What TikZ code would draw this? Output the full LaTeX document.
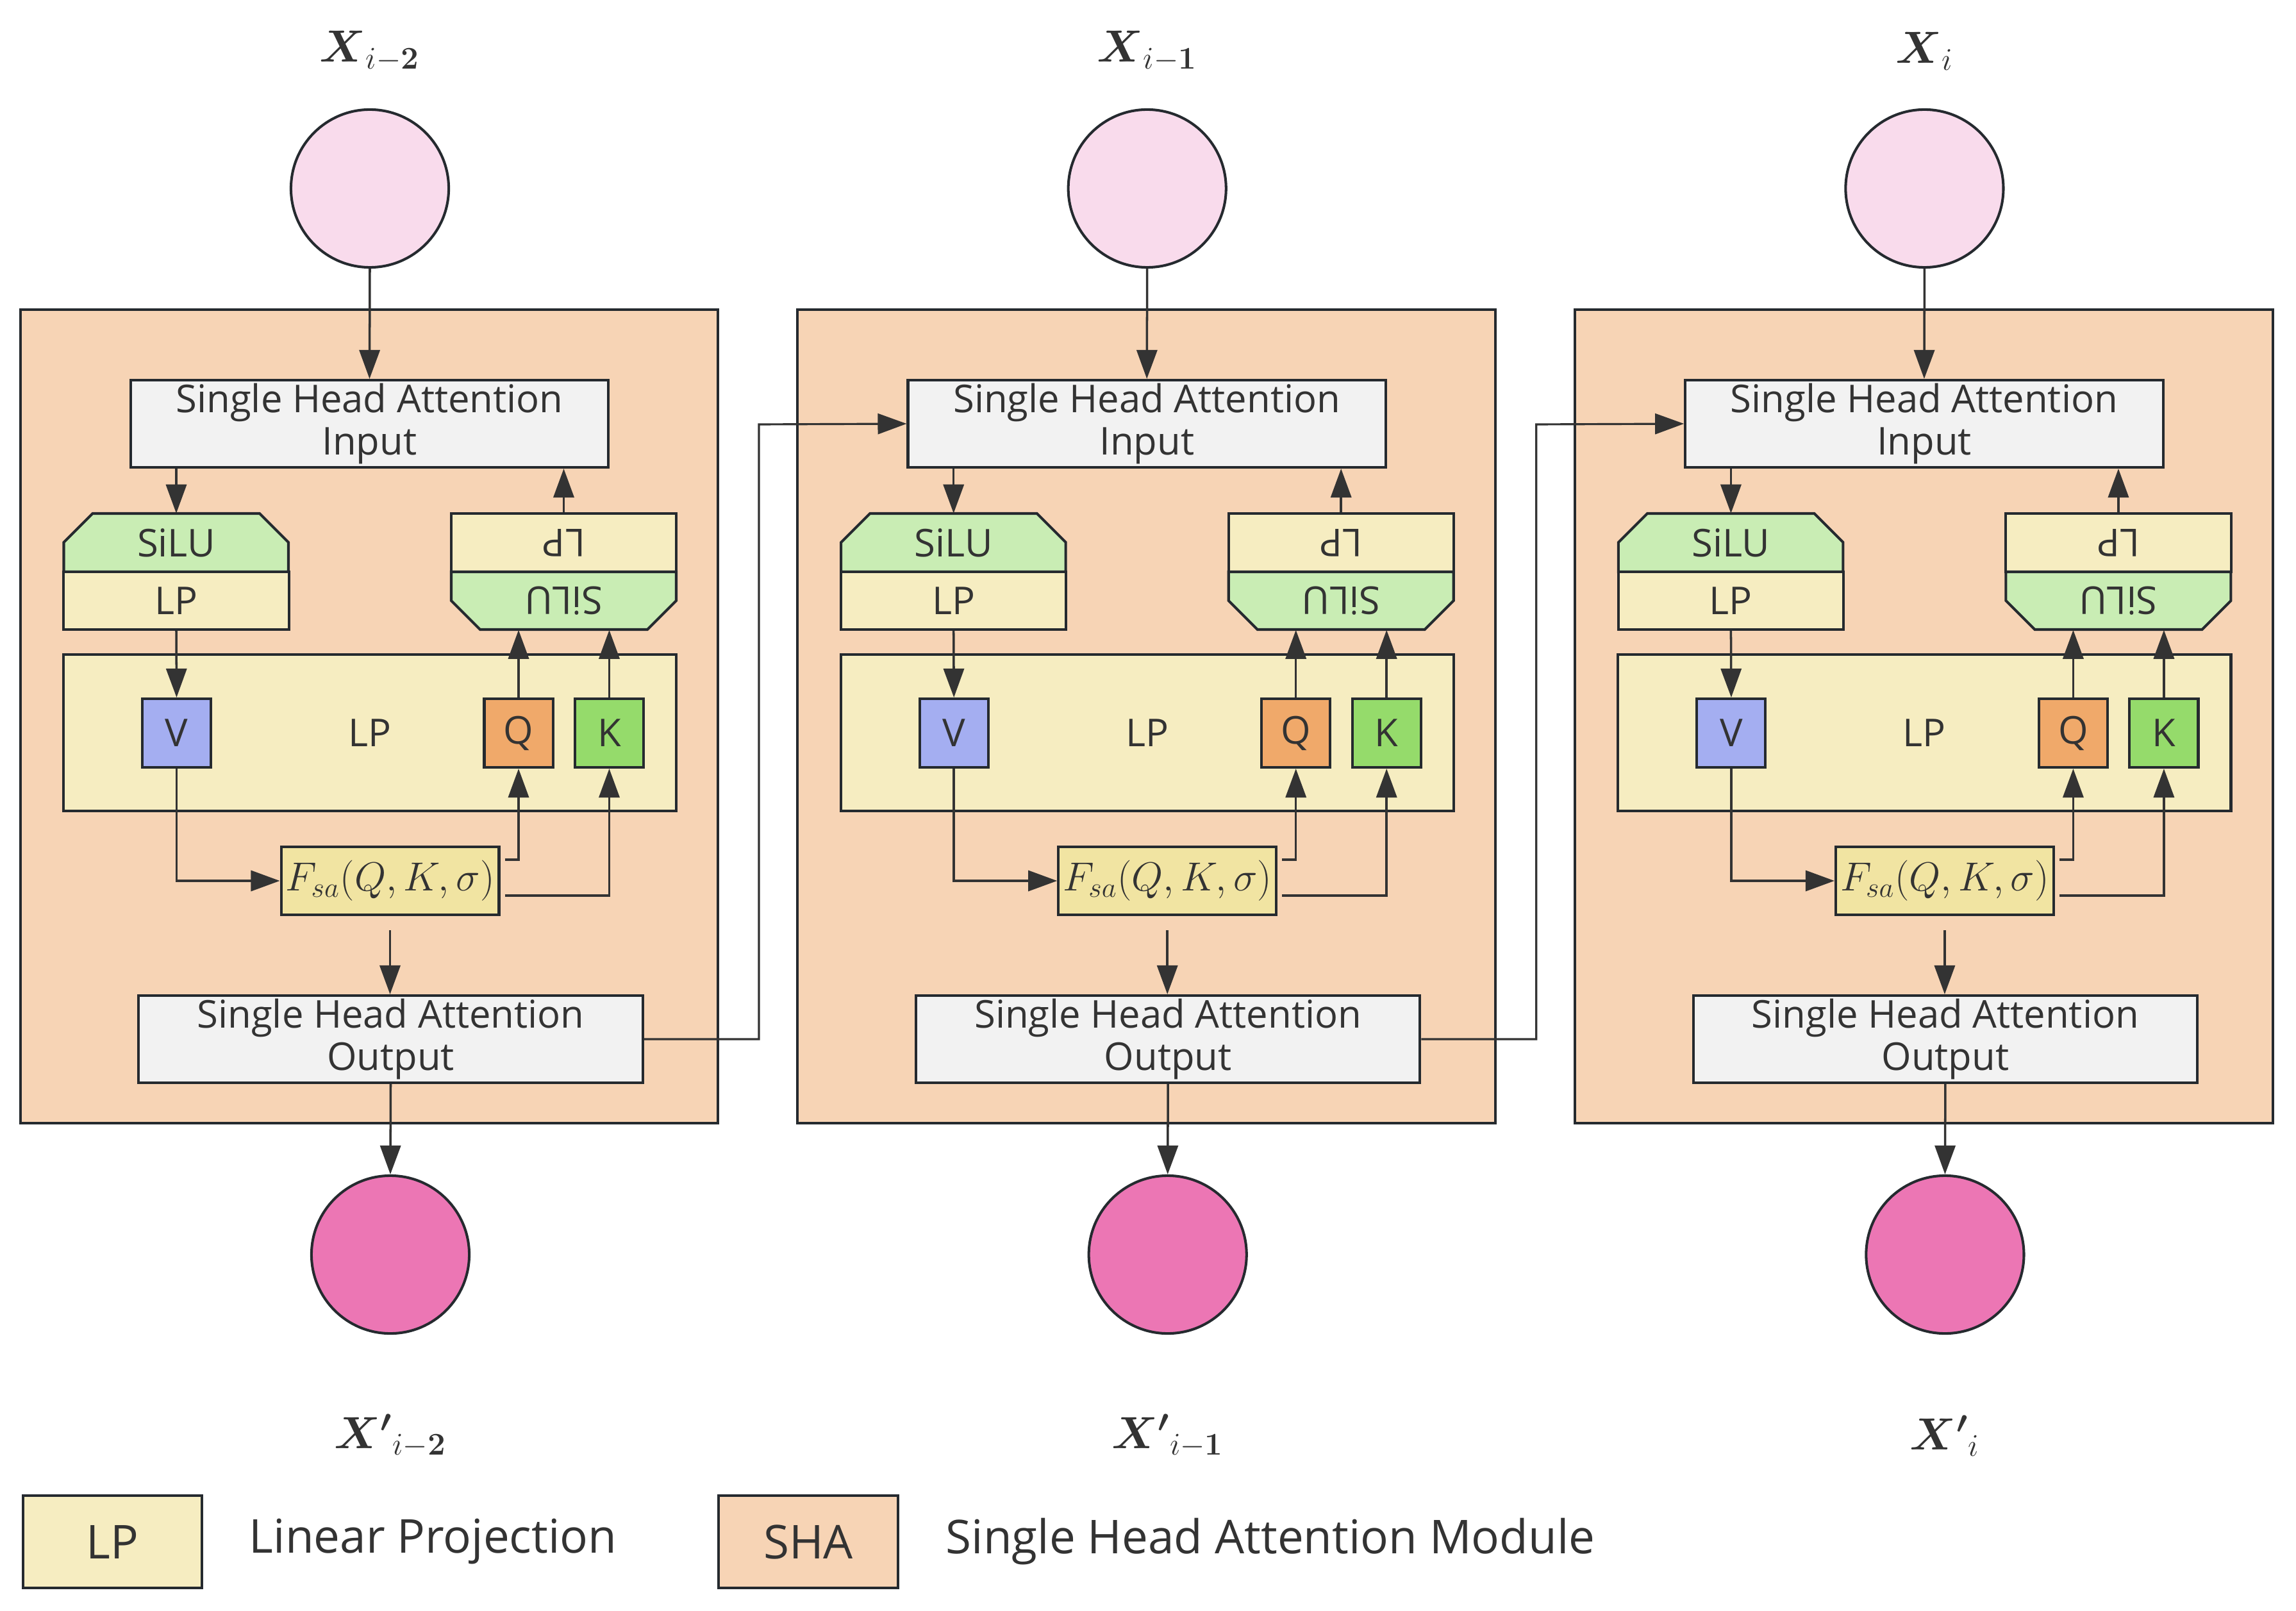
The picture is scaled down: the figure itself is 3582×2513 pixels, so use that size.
\RequirePackage{fix-cm}
\documentclass[tikz,border=0pt]{standalone}
\usepackage{amsmath}
\usepackage{graphicx}
\usepackage[no-math]{fontspec}
\setmainfont{Open Sans}
\usetikzlibrary{arrows.meta,positioning}
\definecolor{shafill}{HTML}{F7D4B5}
\definecolor{iofill}{HTML}{F2F2F2}
\definecolor{silufill}{HTML}{C9EDB4}
\definecolor{lpfill}{HTML}{F6EDC1}
\definecolor{fsafill}{HTML}{F1E4A2}
\definecolor{vfill}{HTML}{A4AEF1}
\definecolor{qfill}{HTML}{F0A96A}
\definecolor{kfill}{HTML}{95DB6B}
\definecolor{infill}{HTML}{F9DBEC}
\definecolor{outfill}{HTML}{EC76B4}
\definecolor{edge}{HTML}{252A2F}
\definecolor{wire}{HTML}{333333}
\newcommand{\boxfont}{\fontsize{17}{19}\selectfont}
\newcommand{\legfont}{\fontsize{20.7}{25}\selectfont}
\newcommand{\labfont}{\fontsize{20}{24}\selectfont}
\newcommand{\fsafont}{\fontsize{18}{21}\selectfont}
\begin{document}
\begin{tikzpicture}[x=0.01cm, y=-0.01cm, font=\boxfont, text=wire,
    box/.style={draw=edge, line width=1.15pt},
    sha/.style={box, fill=shafill, minimum width=10.88cm, minimum height=12.69cm},
    io/.style={box, fill=iofill, minimum width=7.45cm, minimum height=1.36cm, inner ysep=1pt, align=center},
    lp/.style={box, fill=lpfill, minimum width=3.51cm, minimum height=0.9cm},
    silu/.style={minimum width=3.51cm, minimum height=0.9cm},
    vqk/.style={box, minimum size=1.07cm},
    fsa/.style={box, fill=fsafill, minimum width=3.37cm, minimum height=1.06cm, inner xsep=2pt, font=\fsafont},
    inc/.style={circle, draw=edge, line width=1.15pt, fill=infill, minimum size=2.46cm},
    outc/.style={inc, fill=outfill},
    lab/.style={font=\labfont},
    arr/.style={draw=wire, line width=1pt, -{Triangle[length=0.45cm, width=0.32cm]}}]
    \useasboundingbox (0,0) rectangle (3582,2513);
    \foreach \m/\s in {0/{i-\boldsymbol{2}},1/{i-\boldsymbol{1}},2/{i}} {
    \begin{scope}[xshift=\m*12.12cm]
        \node[sha] (sha\m) at (576,1117.5) {};
        \node[lab] (xt\m) at (577,80) {$\boldsymbol{X}_{\s}$};
        \node[inc] (xin\m) at (577,294) {};
        \node[io] (inp\m) at (576.5,661) {Single Head Attention\\Input};
        \draw[box, fill=silufill] (99.5,892) -- (99.5,846) -- (144.5,801) -- (405,801) -- (450,846) -- (450,892) -- cycle;
        \node[silu] (sl\m) at (275,846.5) {SiLU};
        \node[lp] (ll\m) at (275,937) {LP};
        \node[lp] (lr\m) at (879.5,846.5) {\rotatebox{180}{LP}};
        \draw[box, fill=silufill] (704,892) -- (704,937) -- (749,982) -- (1010,982) -- (1055,937) -- (1055,892) -- cycle;
        \node[silu] (sr\m) at (879.5,937) {\rotatebox{180}{SiLU}};
        \node[lp, minimum width=9.555cm, minimum height=2.44cm] (lpbig\m) at (577,1143) {LP};
        \node[vqk, fill=vfill] (v\m) at (275.5,1143.5) {V};
        \node[vqk, fill=qfill] (q\m) at (809,1143.5) {Q};
        \node[vqk, fill=kfill] (k\m) at (950.5,1143.5) {K};
        \node[fsa] (fsa\m) at (608.5,1374) {$F_{sa}(Q,K,\sigma)$};
        \node[io, minimum width=7.86cm] (out\m) at (609.5,1621) {Single Head Attention\\Output};
        \node[outc] (xout\m) at (609,1957) {};
        \node[lab] (xo\m) at (609,2240) {${\boldsymbol{X'}}_{\s}$};
        \coordinate (bend\m) at (1184,662);
        \draw[arr] (xin\m.south) -- (inp\m.north);
        \draw[arr] (inp\m.south -| sl\m.north) -- (sl\m.north);
        \draw[arr] (ll\m.south) -- (v\m.north);
        \draw[arr] (v\m.south) |- (fsa\m.west);
        \draw[arr] ([xshift=0.07cm,yshift=0.33cm]fsa\m.east) -| (q\m.south);
        \draw[arr] ([xshift=0.07cm,yshift=-0.23cm]fsa\m.east) -| (k\m.south);
        \draw[arr] (q\m.north) -- (q\m.north |- sr\m.south);
        \draw[arr] (k\m.north) -- (k\m.north |- sr\m.south);
        \draw[arr] (lr\m.north) -- (lr\m.north |- inp\m.south);
        \draw[arr] ([yshift=-0.22cm]fsa\m.south) -- (fsa\m.south |- out\m.north);
        \draw[arr] (out\m.south) -- (xout\m.north);
    \end{scope}}
    \foreach \m/\n in {0/1,1/2}
        \draw[arr, line width=0.9pt] (out\m.east) -| (bend\m) -- (inp\n.west);
    \node[box, fill=lpfill, minimum width=2.785cm, minimum height=1.44cm, font=\legfont] (leglp) at (175.75,2405) {LP};
    \node[font=\legfont, inner sep=0pt, right=0.71cm of leglp] (legtxt1) {Linear Projection};
    \node[box, fill=shafill, minimum width=2.8cm, minimum height=1.44cm, font=\legfont] (legsha) at (1261,2405) {SHA};
    \node[font=\legfont, inner sep=0pt, right=0.72cm of legsha] (legtxt2) {Single Head Attention Module};
\end{tikzpicture}
\end{document}
